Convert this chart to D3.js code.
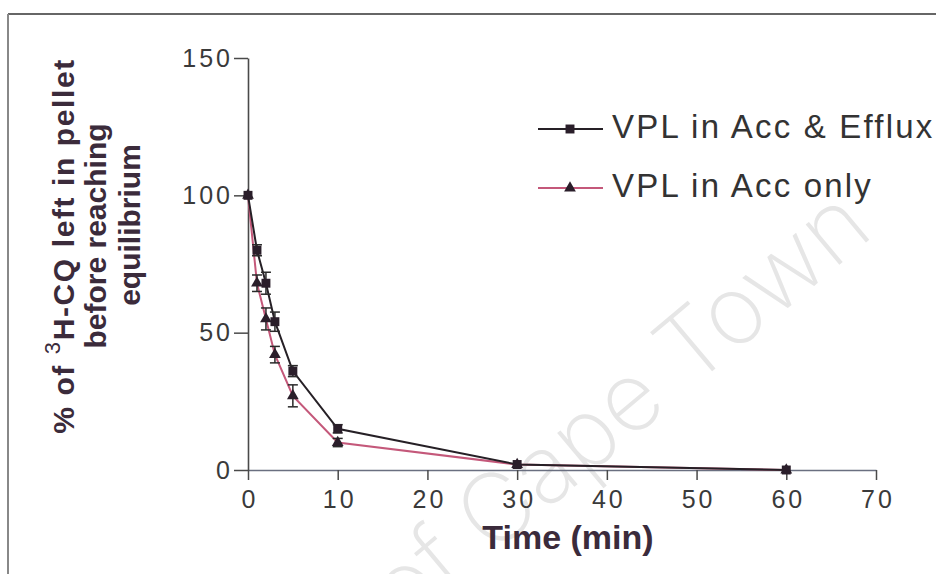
<!DOCTYPE html>
<html>
<head>
<meta charset="utf-8">
<script src="https://cdn.jsdelivr.net/npm/d3@7"></script>
<style>
  html, body { margin: 0; padding: 0; background: #fff; }
  svg { display: block; }
</style>
</head>
<body>
<svg id="chart" width="936" height="574"></svg>
<script>
// Time points (min) and the % of 3H-CQ left in the pellet for each condition
const times = [0, 1, 2, 3, 5, 10, 30, 60];
const effluxValues = [100, 80, 68, 54, 36, 15, 2, 0];
const effluxErrors = [0, 2, 4, 3.5, 2, 1.5, 0.5, 0.5];
const accOnlyValues = [100, 68, 55, 42, 27, 10, 2, 0];
const accOnlyErrors = [0, 3, 4, 3, 4, 1.5, 0.5, 0.5];
const xTicks = [0, 10, 20, 30, 40, 50, 60, 70];
const yTicks = [0, 50, 100, 150];
const seriesNames = ["VPL in Acc & Efflux", "VPL in Acc only"];

const svg = d3.select("#chart");
const font = "'Liberation Sans', Arial, sans-serif";

// frame of the figure panel
svg.append("line").attr("x1", 8).attr("x2", 936).attr("y1", 14).attr("y2", 14)
  .attr("stroke", "#666").attr("stroke-width", 2);
svg.append("line").attr("x1", 8).attr("x2", 8).attr("y1", 14).attr("y2", 574)
  .attr("stroke", "#888").attr("stroke-width", 2);

// faint watermark
svg.append("text")
  .attr("transform", "translate(640,432) rotate(-40)")
  .attr("text-anchor", "middle")
  .attr("font-family", "Inter, 'Open Sans', sans-serif")
  .attr("font-weight", 200)
  .attr("font-size", 96)
  .attr("fill", "#e6e6e6")
  .text("of Cape Town");

const x = d3.scaleLinear().domain([0, 70]).range([248, 876]);
const y = d3.scaleLinear().domain([0, 150]).range([470, 58]);

const axisColor = "#4a4a4a";
const tickFont = 25;

// x axis
const gx = svg.append("g").attr("transform", "translate(0,470)")
  .call(d3.axisBottom(x).tickValues(xTicks).tickSize(10).tickSizeOuter(0).tickPadding(10));
gx.select(".domain").attr("stroke", "#6a6f80").attr("stroke-width", 1.6);
gx.selectAll(".tick line").attr("stroke", axisColor).attr("stroke-width", 1.5);
gx.selectAll(".tick text").attr("font-family", font).attr("font-size", tickFont)
  .attr("fill", "#3a3a3a").style("letter-spacing", "3px").attr("dx", 1.5);

// y axis
const gy = svg.append("g").attr("transform", "translate(248,0)")
  .call(d3.axisLeft(y).tickValues(yTicks).tickSize(14).tickSizeOuter(0).tickPadding(1));
gy.select(".domain").attr("stroke", axisColor).attr("stroke-width", 1.6);
gy.selectAll(".tick line").attr("stroke", axisColor).attr("stroke-width", 1.5);
gy.selectAll(".tick text").attr("font-family", font).attr("font-size", tickFont)
  .attr("fill", "#3a3a3a").style("letter-spacing", "3px");

// axis titles
svg.append("text")
  .attr("x", 568).attr("y", 549)
  .attr("text-anchor", "middle")
  .attr("font-family", font).attr("font-weight", "bold").attr("font-size", 34)
  .attr("fill", "#3b2b3b")
  .text("Time (min)");

const titleSize = 30;
const yTitle = svg.append("g").attr("transform", "rotate(-90)");
const line1 = yTitle.append("text")
  .attr("x", -246).attr("y", 74)
  .attr("text-anchor", "middle")
  .attr("font-family", font).attr("font-weight", "bold").attr("font-size", titleSize)
  .attr("fill", "#3b2b3b")
  .style("letter-spacing", "1.6px");
line1.append("tspan").text("% of ");
line1.append("tspan").attr("dy", -14).attr("font-size", 22).attr("font-weight", "normal").text("3");
line1.append("tspan").attr("dy", 14).text("H-CQ left in pellet");
yTitle.append("text")
  .attr("x", -236).attr("y", 106)
  .attr("text-anchor", "middle")
  .attr("font-family", font).attr("font-weight", "bold").attr("font-size", titleSize)
  .attr("fill", "#3b2b3b")
  .text("before reaching");
yTitle.append("text")
  .attr("x", -225).attr("y", 140)
  .attr("text-anchor", "middle")
  .attr("font-family", font).attr("font-weight", "bold").attr("font-size", titleSize)
  .attr("fill", "#3b2b3b")
  .text("equilibrium");

// series
const series = [
  { name: seriesNames[0], values: effluxValues, errors: effluxErrors, color: "#262026", marker: "square" },
  { name: seriesNames[1], values: accOnlyValues, errors: accOnlyErrors, color: "#c4587a", marker: "triangle" }
];

const lineGen = d3.line().x(d => x(d.t)).y(d => y(d.v));
const markerFill = "#2a1e2a";

function drawMarker(g, type, cx, cy) {
  const sym = type === "square" ? d3.symbolSquare : d3.symbolTriangle;
  const size = type === "square" ? 80 : 60;
  g.append("path")
    .attr("d", d3.symbol().type(sym).size(size)())
    .attr("transform", `translate(${cx},${cy})`)
    .attr("fill", markerFill);
}

// draw pink series first so the dark one sits on top
[series[1], series[0]].forEach(s => {
  const pts = times.map((t, i) => ({ t, v: s.values[i], e: s.errors[i] }));
  const g = svg.append("g");
  g.append("path").datum(pts)
    .attr("d", lineGen)
    .attr("fill", "none")
    .attr("stroke", s.color)
    .attr("stroke-width", 2);
  // error bars
  pts.filter(d => d.e > 0.8).forEach(d => {
    const cx = x(d.t);
    g.append("line").attr("x1", cx).attr("x2", cx)
      .attr("y1", y(d.v - d.e)).attr("y2", y(d.v + d.e))
      .attr("stroke", "#2a2a2a").attr("stroke-width", 1.5);
    [d.v - d.e, d.v + d.e].forEach(v => {
      g.append("line").attr("x1", cx - 5).attr("x2", cx + 5)
        .attr("y1", y(v)).attr("y2", y(v))
        .attr("stroke", "#2a2a2a").attr("stroke-width", 1.5);
    });
  });
  pts.forEach(d => drawMarker(g, s.marker, x(d.t), y(d.v)));
});

// legend
const legend = svg.append("g");
series.forEach((s, i) => {
  const ly = 129 + i * 59;
  legend.append("line").attr("x1", 538).attr("x2", 603).attr("y1", ly).attr("y2", ly)
    .attr("stroke", s.color).attr("stroke-width", 2);
  drawMarker(legend, s.marker, 570, ly);
  legend.append("text")
    .attr("x", 612).attr("y", ly + 9)
    .attr("font-family", font).attr("font-size", 33)
    .attr("fill", "#333")
    .style("letter-spacing", "2.2px")
    .text(s.name);
});
</script>
</body>
</html>
